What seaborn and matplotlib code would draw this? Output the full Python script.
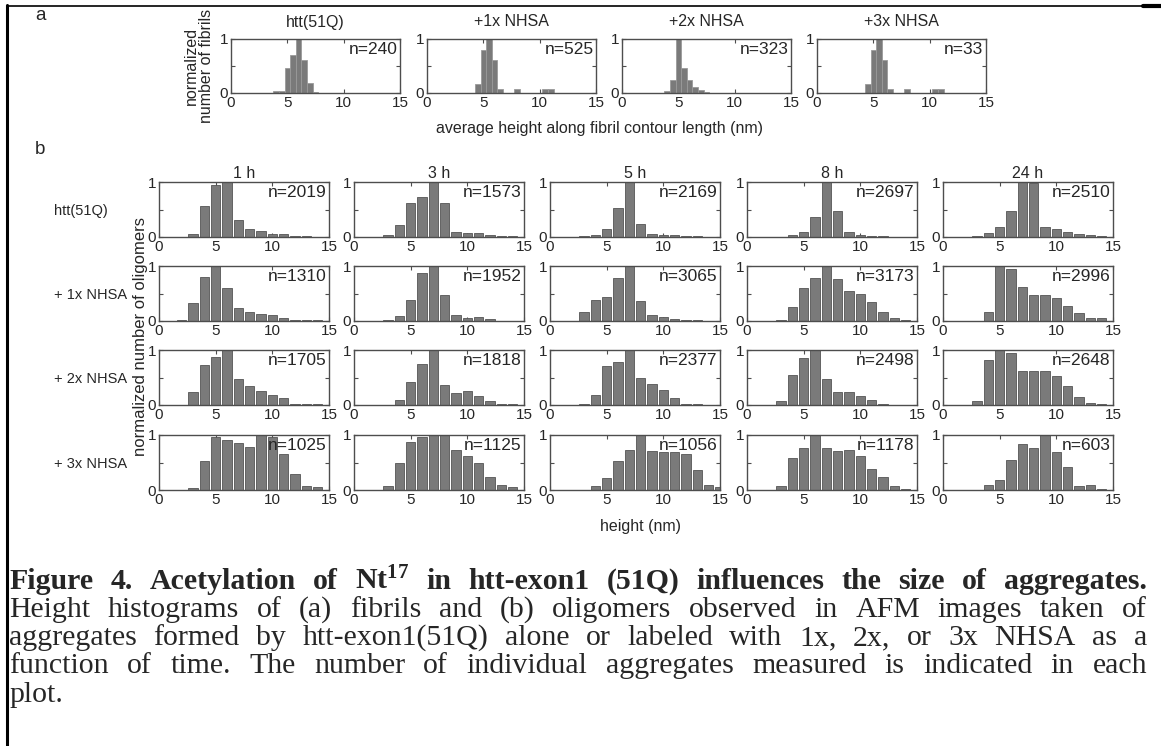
import seaborn as sns
import matplotlib.pyplot as plt
import matplotlib.lines as mlines
import pandas as pd

# ---- panel a: fibril heights (bins of 0.5 nm) ----
fib_bins = [3.5, 4.0, 4.5, 5.0, 5.5, 6.0, 6.5, 7.0, 7.5, 8.0, 8.5, 9.0, 9.5, 10.0, 10.5, 11.0, 11.5]
fib_titles = ["htt(51Q)", "+1x NHSA", "+2x NHSA", "+3x NHSA"]
fib_n = [240, 525, 323, 33]
fib_htt = [0, 0.03, 0.04, 0.47, 0.71, 1.0, 0.62, 0.18, 0.02, 0, 0, 0, 0, 0, 0, 0, 0]
fib_1x = [0, 0, 0.16, 0.80, 1.0, 0.62, 0.07, 0, 0, 0.07, 0, 0, 0, 0, 0.07, 0.07, 0]
fib_2x = [0, 0.03, 0.25, 1.0, 0.47, 0.24, 0.12, 0.05, 0.01, 0, 0, 0, 0, 0, 0, 0, 0]
fib_3x = [0, 0, 0.16, 0.80, 1.0, 0.62, 0.07, 0, 0, 0.07, 0, 0, 0, 0, 0.07, 0.07, 0]

# ---- panel b: oligomer heights (bins of 1 nm) ----
olig_bins = [1, 2, 3, 4, 5, 6, 7, 8, 9, 10, 11, 12, 13, 14, 15]
times = ["1 h", "3 h", "5 h", "8 h", "24 h"]
rows = ["htt(51Q)", "+ 1x NHSA", "+ 2x NHSA", "+ 3x NHSA"]

htt = [
    [0, 0, 0.06, 0.57, 0.95, 1.0, 0.31, 0.14, 0.11, 0.05, 0.06, 0.02, 0.01, 0.005, 0],
    [0, 0, 0.03, 0.21, 0.61, 0.73, 1.0, 0.62, 0.10, 0.07, 0.08, 0.04, 0.02, 0.01, 0],
    [0, 0, 0.01, 0.03, 0.15, 0.52, 1.0, 0.24, 0.06, 0.04, 0.04, 0.02, 0.01, 0, 0],
    [0, 0, 0, 0.03, 0.09, 0.36, 1.0, 0.47, 0.10, 0.03, 0.02, 0.01, 0.005, 0, 0],
    [0, 0, 0.01, 0.08, 0.19, 0.48, 1.0, 0.98, 0.19, 0.14, 0.10, 0.06, 0.03, 0.01, 0],
]
nhsa1 = [
    [0, 0.02, 0.32, 0.80, 1.0, 0.60, 0.23, 0.17, 0.13, 0.11, 0.05, 0.02, 0.02, 0.01, 0],
    [0, 0, 0.01, 0.09, 0.38, 0.88, 1.0, 0.48, 0.11, 0.06, 0.08, 0.04, 0, 0, 0],
    [0, 0, 0.16, 0.38, 0.44, 0.78, 1.0, 0.36, 0.11, 0.07, 0.04, 0.02, 0.01, 0, 0],
    [0, 0, 0.02, 0.25, 0.60, 0.78, 1.0, 0.77, 0.55, 0.49, 0.34, 0.17, 0.06, 0.01, 0],
    [0, 0, 0, 0.16, 1.0, 0.94, 0.61, 0.47, 0.48, 0.41, 0.28, 0.14, 0.05, 0.05, 0],
]
nhsa2 = [
    [0, 0, 0.24, 0.73, 0.87, 1.0, 0.48, 0.35, 0.25, 0.18, 0.13, 0.02, 0.02, 0.02, 0],
    [0, 0, 0, 0.09, 0.41, 0.74, 1.0, 0.36, 0.22, 0.26, 0.17, 0.08, 0.02, 0.01, 0],
    [0, 0, 0.01, 0.18, 0.71, 0.79, 1.0, 0.50, 0.38, 0.28, 0.13, 0.02, 0.01, 0, 0],
    [0, 0, 0.08, 0.54, 0.85, 1.0, 0.48, 0.24, 0.23, 0.17, 0.09, 0.02, 0, 0, 0],
    [0, 0, 0.08, 0.82, 1.0, 0.94, 0.62, 0.62, 0.61, 0.53, 0.35, 0.14, 0.03, 0.02, 0],
]
nhsa3 = [
    [0, 0, 0.04, 0.53, 0.96, 0.91, 0.86, 0.78, 1.0, 0.97, 0.66, 0.30, 0.07, 0.05, 0],
    [0, 0, 0.08, 0.49, 0.87, 0.97, 1.0, 1.0, 0.72, 0.61, 0.49, 0.24, 0.10, 0.05, 0],
    [0, 0, 0, 0.08, 0.22, 0.52, 0.73, 1.0, 0.71, 0.69, 0.69, 0.65, 0.37, 0.09, 0.05],
    [0, 0, 0.08, 0.59, 0.76, 1.0, 0.76, 0.71, 0.72, 0.61, 0.38, 0.23, 0.07, 0.01, 0],
    [0, 0, 0, 0.10, 0.19, 0.55, 0.83, 0.76, 1.0, 0.70, 0.41, 0.07, 0.10, 0.02, 0],
]
olig_n = [
    [2019, 1573, 2169, 2697, 2510],
    [1310, 1952, 3065, 3173, 2996],
    [1705, 1818, 2377, 2498, 2648],
    [1025, 1125, 1056, 1178, 603],
]

caption = [
    "Figure 4. Acetylation of $\\mathbf{Nt^{17}}$ in htt-exon1 (51Q) influences the size of aggregates.",
    "Height histograms of (a) fibrils and (b) oligomers observed in AFM images taken of",
    "aggregates formed by htt-exon1(51Q) alone or labeled with 1x, 2x, or 3x NHSA as a",
    "function of time. The number of individual aggregates measured is indicated in each",
    "plot.",
]

sns.set_style("ticks")
plt.rcParams["font.family"] = ["Liberation Sans", "DejaVu Sans"]
plt.rcParams["mathtext.fontset"] = "custom"
plt.rcParams["mathtext.rm"] = "Liberation Serif"
plt.rcParams["mathtext.bf"] = "Liberation Serif:bold"

W, H = 1161, 746
fig = plt.figure(figsize=(W / 100, H / 100), dpi=100)

BAR = "#7a7a7a"
SPINE = "#4d4d4d"


def px_axes(left, top, w, h):
    return fig.add_axes([left / W, 1 - (top + h) / H, w / W, h / H])


def hist_panel(ax, bins, heights, n, width, edge):
    df = pd.DataFrame({"x": bins, "y": heights})
    df = df[df["y"] > 0]
    sns.barplot(data=df, x="x", y="y", native_scale=True, width=width,
                color=BAR, saturation=1, edgecolor=edge, linewidth=0.6,
                errorbar=None, ax=ax)
    ax.set_xlim(0, 15)
    ax.set_ylim(0, 1)
    ax.set_xticks([0, 5, 10, 15])
    ax.set_xticklabels(["0", "5", "10", "15"])
    ax.set_yticks([0, 0.5, 1])
    ax.set_yticklabels(["0", "", "1"])
    ax.set_xlabel("")
    ax.set_ylabel("")
    ax.tick_params(direction="in", top=True, right=True, length=3, width=0.8,
                   color=SPINE, labelsize=11, pad=2)
    for s in ax.spines.values():
        s.set_color(SPINE)
        s.set_linewidth(1.0)
    ax.text(0.985, 0.95, f"n={n}", transform=ax.transAxes, ha="right", va="top",
            fontsize=12.5)


# panel a
fib_sets = [fib_htt, fib_1x, fib_2x, fib_3x]
a_lefts = [231, 427, 622, 817]
for i, (vals, title, n) in enumerate(zip(fib_sets, fib_titles, fib_n)):
    ax = px_axes(a_lefts[i], 39, 169, 54)
    hist_panel(ax, fib_bins, vals, n, 1.0, "#9a9a9a")
    ax.set_title(title, fontsize=11.5, pad=9)

fig.text(199 / W, 1 - 66 / H, "normalized\nnumber of fibrils", rotation=90,
         ha="center", va="center", fontsize=11.5, linespacing=1.0)
fig.text(600 / W, 1 - 129 / H, "average height along fibril contour length (nm)",
         ha="center", va="center", fontsize=11.5)

# panel b
groups = [htt, nhsa1, nhsa2, nhsa3]
b_lefts = [159, 354, 550, 747, 943]
b_tops = [182, 266, 350, 435]
for r, grp in enumerate(groups):
    for c in range(5):
        ax = px_axes(b_lefts[c], b_tops[r], 170, 55)
        hist_panel(ax, olig_bins, grp[c], olig_n[r][c], 0.82, "#555555")
        if r == 0:
            ax.set_title(times[c], fontsize=11.5, pad=3)
    fig.text(54 / W, 1 - (b_tops[r] + 29) / H, rows[r], ha="left", va="center",
             fontsize=10.5)

fig.text(141 / W, 1 - 336 / H, "normalized number of oligomers", rotation=90,
         ha="center", va="center", fontsize=12)
fig.text(641 / W, 1 - 527 / H, "height (nm)", ha="center", va="center", fontsize=11.5)

fig.text(40 / W, 1 - 15 / H, "a", ha="center", va="center", fontsize=13.5)
fig.text(40 / W, 1 - 150 / H, "b", ha="center", va="center", fontsize=13.5)

# frame lines of the figure box
fig.add_artist(mlines.Line2D([7 / W, 7 / W], [1 - 5 / H, 0], color="black", lw=2.2,
                             transform=fig.transFigure))
fig.add_artist(mlines.Line2D([7 / W, 1], [1 - 6 / H, 1 - 6 / H], color="black", lw=1.2,
                             transform=fig.transFigure))
fig.add_artist(mlines.Line2D([1143 / W, 1], [1 - 6 / H, 1 - 6 / H], color="black", lw=3,
                             transform=fig.transFigure))

# justified caption
renderer = fig.canvas.get_renderer()
cap_base = [589, 617, 645, 673, 702]
x0, x1 = 9, 1147
for i, line in enumerate(caption):
    kw = dict(fontsize=21.5, family="Liberation Serif",
              fontweight="bold" if i == 0 else "normal")
    words = line.split(" ")
    texts = [fig.text(0, 1 - cap_base[i] / H, w, ha="left", va="baseline", **kw)
             for w in words]
    widths = [t.get_window_extent(renderer).width for t in texts]
    if i == len(caption) - 1 or len(words) == 1:
        gap = 6
    else:
        gap = (x1 - x0 - sum(widths)) / (len(words) - 1)
    x = x0
    for t, wd in zip(texts, widths):
        t.set_x(x / W)
        x += wd + gap

fig.savefig("out.png", dpi=100)
